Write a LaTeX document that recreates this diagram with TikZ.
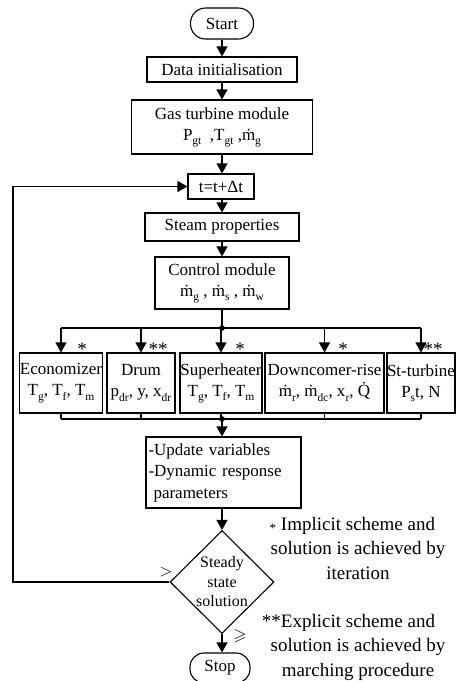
\documentclass[tikz,border=0pt]{standalone}
\usepackage{fontspec}
\setmainfont{Liberation Serif}
\usepackage{amssymb}
\usetikzlibrary{arrows.meta,shapes.geometric}
\newcommand{\sbs}[1]{\raisebox{-0.55ex}{\fontsize{11.5}{11.5}\selectfont #1}}
\newcommand{\dotm}{\.m}
\begin{document}
\begin{tikzpicture}[x=1pt,y=-1pt,
  box/.style={draw, line width=1.1pt, rectangle, inner sep=0pt, align=center, font=\fontsize{17}{21}\selectfont},
  arr/.style={line width=1.1pt, -{Triangle[length=10pt,width=11pt]}},
  ln/.style={line width=1.1pt},
  star/.style={anchor=base, inner sep=0pt, font=\fontsize{19}{19}\selectfont},
  note/.style={align=center, inner sep=0pt, font=\fontsize{19}{24.5}\selectfont}]
\useasboundingbox (0,0) rectangle (462,681);
\clip (0,0) rectangle (462,681);
% main column
\node[box, rounded corners=15pt, minimum width=63pt, minimum height=31pt] (start) at (222,23.5) {Start};
\node[box, minimum width=150pt, minimum height=25pt] (data) at (222,69.5) {Data initialisation};
\node[box, minimum width=181pt, minimum height=54pt] (gas) at (222,127) {Gas turbine module\\P\sbs{gt}\ \ ,T\sbs{gt} ,\dotm\sbs{g}};
\node[box, minimum width=66pt, minimum height=25pt] (tt) at (221,186.5) {t=t+Δt};
\node[box, minimum width=154pt, minimum height=28pt] (steam) at (222,227) {Steam properties};
\node[box, minimum width=134pt, minimum height=52pt] (ctrl) at (222,283) {Control module\\\dotm\sbs{g} , \dotm\sbs{s} , \dotm\sbs{w}};
% module boxes
\node[box, minimum width=82pt, minimum height=60pt] (eco) at (61,383) {Economizer\\T\sbs{g}, T\sbs{f}, T\sbs{m}};
\node[box, minimum width=68pt, minimum height=60pt] (drum) at (141,383) {Drum\\p\sbs{dr}, y, x\sbs{dr}};
\node[box, minimum width=82pt, minimum height=60pt] (sh) at (221,383) {Superheater\\T\sbs{g}, T\sbs{f}, T\sbs{m}};
\node[box, minimum width=119pt, minimum height=60pt] (dc) at (324.5,383) {Downcomer-rise\\\dotm\sbs{r}, \dotm\sbs{dc}, x\sbs{r}, \.Q};
\node[box, minimum width=68pt, minimum height=60pt] (st) at (421,383) {St-turbine\\P\sbs{s}t, N};
% update box
\node[box, align=left, text width=150pt, inner xsep=2.5pt, minimum height=71pt, font=\fontsize{17}{21.5}\selectfont] (upd) at (223.5,472.5) {-Update variables\\-Dynamic response\\\hspace*{5pt}parameters};
% decision
\node[draw, line width=1.1pt, diamond, minimum width=104pt, minimum height=103pt, inner sep=-3pt, align=center, font=\fontsize{16}{19.5}\selectfont] (dia) at (222,582) {Steady\\state\\solution};
\node[box, rounded corners=14pt, minimum width=60pt, minimum height=30pt] (stop) at (220,668) {Stop};
% connectors
\draw[arr] (start) -- (data);
\draw[arr] (data) -- (gas);
\draw[arr] (gas.south) -- (gas.south |- tt.north);
\draw[arr] (tt.south -| steam.north) -- (steam.north);
\draw[arr] (steam) -- (ctrl);
\coordinate (j1) at (222,328);
\draw[ln] (ctrl.south) -- (j1);
\draw[ln] (eco.north |- j1) -- (st.north |- j1);
\fill (j1) circle (2.8pt);
\foreach \b in {eco,drum,sh,dc,st} \draw[arr] (\b.north |- j1) -- (\b.north);
\coordinate (j2) at (222,419);
\foreach \b in {eco,drum,sh,dc,st} \draw[ln] (\b.south) -- (\b.south |- j2);
\draw[ln] (eco.south |- j2) -- (st.south |- j2);
\fill (j2) circle (2.8pt);
\draw[arr] (j2) -- (upd.north -| j2);
\draw[arr] (upd.south -| dia.north) -- (dia.north);
\coordinate (fb) at (13,582);
\draw[arr] (dia.west) -- (fb) |- (tt.west);
\draw[arr] (dia.south) -- (stop.north -| dia.south);
% stars
\node[star] (s1) at (82,355) {*};
\node[star] (s2) at (158,355) {**};
\node[star] (s3) at (240,355) {*};
\node[star] (s4) at (343,355) {*};
\node[star] (s5) at (433,355) {**};
% branch labels
\node[inner sep=0pt, font=\fontsize{17}{17}\selectfont] (gt) at (166,572) {$>$};
\node[inner sep=0pt, font=\fontsize{17}{17}\selectfont] (ge) at (240,636) {$\geqslant$};
% notes
\node[note] (n1) at (358,548) {\llap{\raisebox{-0.3ex}{\fontsize{13}{13}\selectfont *}\ }Implicit scheme and\\solution is achieved by\\iteration};
\node[note] (n2) at (358,647) {\llap{**}Explicit scheme and\\solution is achieved by\\marching procedure};
\end{tikzpicture}
\end{document}
